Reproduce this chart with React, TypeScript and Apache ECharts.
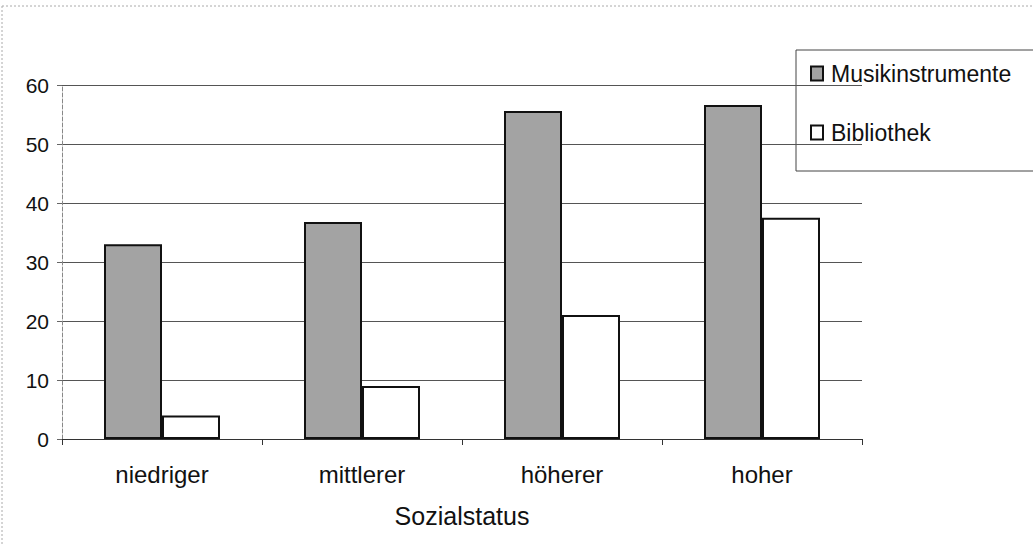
import React, { useEffect, useRef } from "react";
import * as echarts from "echarts";

const categories = ["niedriger", "mittlerer", "höherer", "hoher"];
const musikinstrumente = [33, 36.8, 55.6, 56.6];
const bibliothek = [4, 9, 21, 37.5];
const seriesNames = ["Musikinstrumente", "Bibliothek"];
const axisName = "Sozialstatus";

export default function App() {
  const ref = useRef<HTMLDivElement>(null);
  useEffect(() => {
    if (!ref.current) return;
    const chart = echarts.init(ref.current, undefined, { renderer: "svg" });
    const font = "'Liberation Sans', Arial, sans-serif";
    chart.setOption({
      animation: false,
      backgroundColor: "#ffffff",
      textStyle: { fontFamily: font },
      grid: { left: 62, right: 171, top: 85, bottom: 107, containLabel: false },
      xAxis: {
        type: "category",
        data: categories,
        name: axisName,
        nameLocation: "middle",
        nameGap: 64,
        nameTextStyle: { fontSize: 25, color: "#111", fontFamily: font },
        axisLine: { show: true, lineStyle: { color: "#333", width: 1 } },
        axisTick: { show: true, length: 6, lineStyle: { color: "#333" } },
        axisLabel: { fontSize: 24, color: "#111", margin: 23, fontFamily: font },
      },
      yAxis: {
        type: "value",
        min: 0,
        max: 60,
        interval: 10,
        axisLine: { show: true, lineStyle: { color: "#888", width: 1, type: "dashed" } },
        axisTick: { show: true, length: 5, lineStyle: { color: "#666" } },
        axisLabel: { fontSize: 21, color: "#111", margin: 13, fontFamily: font },
        splitLine: { show: true, lineStyle: { color: "#555", width: 1 } },
      },
      legend: {
        orient: "vertical",
        left: 805,
        top: 57,
        itemWidth: 12,
        itemHeight: 14,
        itemGap: 36,
        icon: "rect",
        textStyle: { fontSize: 23, color: "#111", fontFamily: font, padding: [0, 0, 0, 3] },
        data: seriesNames,
      },
      graphic: [
        {
          type: "rect",
          shape: { x: 796, y: 50, width: 250, height: 121 },
          style: { fill: "#fff", stroke: "#444", lineWidth: 1 },
          z: -1,
        },
        {
          type: "line",
          shape: { x1: 2, y1: 6, x2: 1033, y2: 6 },
          style: { stroke: "#aaa", lineWidth: 1, lineDash: [2, 2] },
        },
        {
          type: "line",
          shape: { x1: 2, y1: 6, x2: 2, y2: 546 },
          style: { stroke: "#aaa", lineWidth: 1, lineDash: [2, 2] },
        },
      ],
      series: [
        {
          name: seriesNames[0],
          type: "bar",
          data: musikinstrumente,
          barGap: "0%",
          barCategoryGap: "42%",
          itemStyle: { color: "#a3a3a3", borderColor: "#111", borderWidth: 2 },
        },
        {
          name: seriesNames[1],
          type: "bar",
          data: bibliothek,
          barGap: "0%",
          barCategoryGap: "42%",
          itemStyle: { color: "#ffffff", borderColor: "#111", borderWidth: 2 },
        },
      ],
    });
    return () => chart.dispose();
  }, []);
  return (
    <div
      ref={ref}
      style={{ position: "fixed", left: 0, top: 0, width: 1033, height: 546, background: "#fff" }}
    />
  );
}
